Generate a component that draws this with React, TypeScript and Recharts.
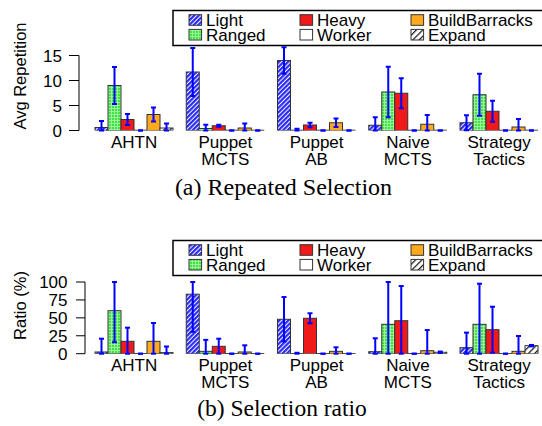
import React from 'react';
import { BarChart, Bar, XAxis, YAxis, ErrorBar } from 'recharts';

const categories = ['AHTN', 'Puppet\nMCTS', 'Puppet\nAB', 'Naive\nMCTS', 'Strategy\nTactics'];
const seriesNames = ['Light', 'Ranged', 'Heavy', 'Worker', 'BuildBarracks', 'Expand'];

// (a) Repeated Selection: means and standard deviations per series
const repLight = [0.6, 11.7, 14.0, 1.05, 1.55];
const repLightSd = [1.3, 4.8, 2.65, 1.6, 1.5];
const repRanged = [9.0, 0.4, 0.1, 7.7, 7.15];
const repRangedSd = [3.7, 0.75, 0.25, 5.05, 4.2];
const repHeavy = [2.2, 0.95, 1.1, 7.45, 3.85];
const repHeavySd = [1.1, 0.2, 0.45, 3.0, 2.1];
const repWorker = [0, 0, 0, 0, 0];
const repWorkerSd = [0, 0, 0, 0, 0];
const repBarracks = [3.2, 0.5, 1.55, 1.25, 0.7];
const repBarracksSd = [1.4, 0.9, 0.85, 1.85, 1.6];
const repExpand = [0.5, 0, 0, 0, 0];
const repExpandSd = [0.9, 0, 0, 0, 0];

// (b) Selection ratio (%)
const ratLight = [2.4, 83, 48, 2.8, 8.4];
const ratLightSd = [18.5, 52.5, 31, 18.7, 21];
const ratRanged = [60, 3.3, 0.3, 41, 41];
const ratRangedSd = [44, 16, 1, 59, 56.6];
const ratHeavy = [17.3, 10.3, 49.4, 46, 33.5];
const ratHeavySd = [19, 10.6, 7, 48.4, 32];
const ratWorker = [0, 0, 0, 0, 0];
const ratWorkerSd = [0, 0, 0, 0, 0];
const ratBarracks = [17.3, 2.4, 3.3, 4.2, 3.3];
const ratBarracksSd = [25.5, 9.3, 5.6, 28.8, 21.4];
const ratExpand = [1.5, 0, 0, 2, 11.2];
const ratExpandSd = [8.5, 0, 0, 1, 1];

const repTicks = [0, 5, 10, 15];
const ratTicks = [0, 25, 50, 75, 100];

const SANS = '"Liberation Sans", Arial, Helvetica, sans-serif';
const SERIF = '"Liberation Serif", "Times New Roman", serif';

function buildRows(means: number[][], sds: number[][], max: number) {
  return categories.map((name, i) => {
    const row: any = { name };
    seriesNames.forEach((s, k) => {
      const m = means[k][i];
      const sd = sds[k][i];
      row[s] = m;
      row[s + 'Err'] = [Math.min(sd, m), Math.min(sd, max - m)];
    });
    return row;
  });
}

const repRows = buildRows(
  [repLight, repRanged, repHeavy, repWorker, repBarracks, repExpand],
  [repLightSd, repRangedSd, repHeavySd, repWorkerSd, repBarracksSd, repExpandSd],
  Infinity
);
const ratRows = buildRows(
  [ratLight, ratRanged, ratHeavy, ratWorker, ratBarracks, ratExpand],
  [ratLightSd, ratRangedSd, ratHeavySd, ratWorkerSd, ratBarracksSd, ratExpandSd],
  100
);

function Patterns({ p }: { p: string }) {
  return (
    <defs>
      <pattern id={`${p}-light`} patternUnits="userSpaceOnUse" width="3.2" height="3.2" patternTransform="rotate(45)">
        <rect width="3.2" height="3.2" fill="#ffffff" />
        <rect width="2.2" height="3.2" fill="#2b2bff" />
      </pattern>
      <pattern id={`${p}-ranged`} patternUnits="userSpaceOnUse" width="3" height="3">
        <rect width="3" height="3" fill="#44e044" />
        <path d="M0 0.5H3M0.5 0V3" stroke="#a8f8a8" strokeWidth="0.8" />
      </pattern>
      <pattern id={`${p}-expand`} patternUnits="userSpaceOnUse" width="4.5" height="4.5" patternTransform="rotate(45)">
        <rect width="4.5" height="4.5" fill="#ffffff" />
        <rect width="1.2" height="4.5" fill="#111" />
      </pattern>
    </defs>
  );
}

function fillFor(p: string, s: string) {
  switch (s) {
    case 'Light': return `url(#${p}-light)`;
    case 'Ranged': return `url(#${p}-ranged)`;
    case 'Heavy': return '#f01a1a';
    case 'Worker': return '#ffffff';
    case 'BuildBarracks': return '#ffaa1e';
    default: return `url(#${p}-expand)`;
  }
}

const BarShape = (props: any) => {
  const { x, y, width, height, fill } = props;
  if (x == null || y == null) return null;
  if (!height || Math.abs(height) < 0.6) {
    const yy = y + (height || 0);
    return <line x1={x} x2={x + width} y1={yy} y2={yy} stroke="#111" strokeWidth={1.3} />;
  }
  return <rect x={x} y={y} width={width} height={height} fill={fill} stroke="#333" strokeWidth={1} />;
};

const CatTick = (props: any) => {
  const { x, y, payload } = props;
  const lines = String(payload.value).split('\n');
  return (
    <text x={x} y={y} textAnchor="middle" fill="#000" fontSize={17} fontFamily={SANS}>
      {lines.map((l, i) => (
        <tspan key={i} x={x} dy={i === 0 ? 17.5 : 17}>{l}</tspan>
      ))}
    </text>
  );
};

type PanelProps = {
  pid: string;
  data: any[];
  domain: [number, number];
  ticks: number[];
  yWidth: number;
  tickSize: number;
  tickMargin: number;
  padLeft: number;
  height: number;
  marginTop: number;
  marginBottom: number;
};

function Panel(p: PanelProps) {
  return (
    <BarChart
      width={550}
      height={p.height}
      data={p.data}
      margin={{ top: p.marginTop, right: 5.25, bottom: p.marginBottom, left: 0 }}
      barCategoryGap={6.5}
      barGap={0}
    >
      <Patterns p={p.pid} />
      <XAxis
        dataKey="name"
        interval={0}
        axisLine={false}
        tickLine={false}
        tickSize={0}
        tickMargin={0}
        height={60}
        padding={{ left: p.padLeft, right: 0 }}
        tick={<CatTick />}
      />
      <YAxis
        type="number"
        domain={p.domain}
        ticks={p.ticks}
        allowDataOverflow
        interval={0}
        width={p.yWidth}
        tickSize={p.tickSize}
        tickMargin={p.tickMargin}
        axisLine={{ stroke: '#000', strokeWidth: 1 }}
        tickLine={{ stroke: '#000', strokeWidth: 1 }}
        tick={{ fill: '#000', fontSize: 17, fontFamily: SANS }}
      />
      {seriesNames.map((s) => (
        <Bar key={s} dataKey={s} fill={fillFor(p.pid, s)} isAnimationActive={false} shape={BarShape}>
          <ErrorBar dataKey={s + 'Err'} width={2.5} stroke="#0000ff" strokeWidth={2} direction="y" />
        </Bar>
      ))}
    </BarChart>
  );
}

const legendCols = [189, 300, 411];

function LegendBox({ top }: { top: number }) {
  return (
    <g>
      <rect x={173} y={top} width={390} height={35} fill="#fff" stroke="#000" strokeWidth={1.5} />
      {seriesNames.map((s, i) => {
        const col = Math.floor(i / 2);
        const row = i % 2;
        const cy = top + 9.5 + row * 14.7;
        const x = legendCols[col];
        return (
          <g key={s}>
            <rect x={x} y={cy - 5.3} width={12.6} height={10.6} fill={fillFor('lg', s)} stroke="#333" strokeWidth={1} />
            <text x={x + 17} y={cy + 6} fontSize={17} fontFamily={SANS} fill="#000">{s}</text>
          </g>
        );
      })}
    </g>
  );
}

export default function App() {
  return (
    <div style={{ position: 'absolute', left: 0, top: 0, width: 542, height: 426, overflow: 'hidden', background: '#fff' }}>
      <div style={{ position: 'absolute', left: 0, top: 0 }}>
        <Panel
          pid="a"
          data={repRows}
          domain={[0, 15]}
          ticks={repTicks}
          yWidth={79}
          tickSize={10}
          tickMargin={7}
          padLeft={9.5}
          height={200}
          marginTop={55.5}
          marginBottom={9.5}
        />
      </div>
      <div style={{ position: 'absolute', left: 0, top: 200 }}>
        <Panel
          pid="b"
          data={ratRows}
          domain={[0, 100]}
          ticks={ratTicks}
          yWidth={85}
          tickSize={9}
          tickMargin={8.5}
          padLeft={3.5}
          height={226}
          marginTop={82}
          marginBottom={12.3}
        />
      </div>
      <svg width={542} height={426} style={{ position: 'absolute', left: 0, top: 0, pointerEvents: 'none' }}>
        <Patterns p="lg" />
        <LegendBox top={10.5} />
        <LegendBox top={240.5} />
        <text x={20} y={76} transform="rotate(-90 20 76)" textAnchor="middle" dominantBaseline="central" fontSize={16.5} fontFamily={SANS} fill="#000">Avg Repetition</text>
        <text x={19.5} y={305.5} transform="rotate(-90 19.5 305.5)" textAnchor="middle" dominantBaseline="central" fontSize={16.5} fontFamily={SANS} fill="#000">Ratio (%)</text>
        <text x={283.5} y={195} textAnchor="middle" fontSize={24} fontFamily={SERIF} fill="#000">(a) Repeated Selection</text>
        <text x={282} y={416} textAnchor="middle" fontSize={23.5} fontFamily={SERIF} fill="#000">(b) Selection ratio</text>
      </svg>
    </div>
  );
}
